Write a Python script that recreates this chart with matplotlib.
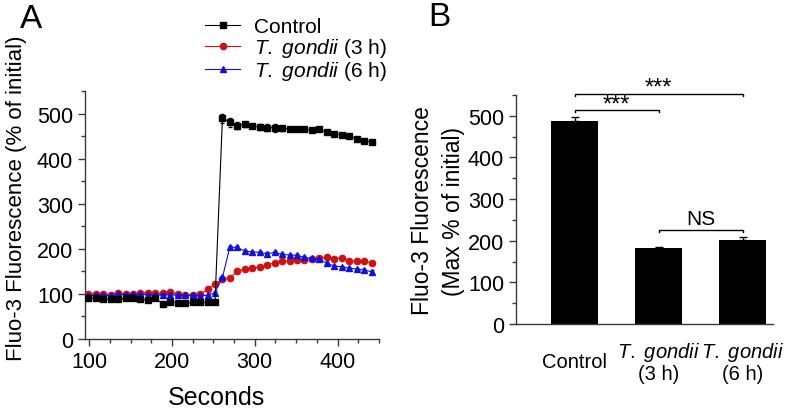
import matplotlib
matplotlib.use("Agg")
import matplotlib.pyplot as plt
from matplotlib.lines import Line2D
from matplotlib.ticker import MultipleLocator

plt.rcParams['font.family'] = ['Liberation Sans', 'DejaVu Sans']
plt.rcParams['mathtext.fontset'] = 'custom'
plt.rcParams['mathtext.it'] = 'Liberation Sans:italic'
plt.rcParams['mathtext.rm'] = 'Liberation Sans'

# time points (s)
seconds = [99, 108, 117, 126, 135, 144, 153, 162, 171, 180, 189, 198, 207, 216,
           225, 234, 243, 252, 261, 270, 279, 288, 297, 306, 315, 324, 333, 342,
           351, 360, 369, 378, 387, 396, 405, 414, 423, 432, 441]

control = [92, 90, 89, 88, 88, 90, 91, 88, 86, 90, 78, 82, 80, 79, 81, 81, 81, 82,
           490, 481, 473, 476, 472, 470, 469, 468, 467, 466, 465, 465, 463, 465,
           459, 454, 453, 451, 444, 440, 437]
control_err = [3, 3, 3, 3, 4, 3, 3, 3, 3, 3, 3, 3, 3, 3, 3, 3, 3, 3,
               10, 10, 8, 5, 5, 6, 8, 8, 6, 4, 4, 4, 4, 4, 4, 3, 3, 3, 3, 3, 3]

tg3h = [100, 100, 100, 98, 102, 100, 99, 102, 103, 102, 101, 105, 99, 98, 98, 99, 110, 122,
        133, 136, 150, 155, 158, 159, 164, 169, 172, 173, 175, 176, 177, 179,
        181, 178, 180, 173, 173, 173, 169]
tg3h_err = [3] * len(tg3h)

tg6h = [96, 97, 97, 96, 99, 98, 99, 99, 98, 97, 98, 98, 97, 97, 97, 96, 97, 103,
        137, 204, 203, 195, 193, 192, 189, 192, 188, 186, 186, 181, 179, 177,
        168, 162, 160, 157, 155, 153, 149]
tg6h_err = [3] * len(tg6h)

# panel B
groups = ['Control', '$\\it{T.}$ $\\it{gondii}$\n(3 h)', '$\\it{T.}$ $\\it{gondii}$\n(6 h)']
max_fluo = [488, 182, 202]
max_err = [9, 3, 7]

spine_col = '#3a3a3a'
red = '#d21010'
blue = '#1010e0'

fig = plt.figure(figsize=(7.97, 4.10), dpi=100)

# ---------------- panel A
axA = fig.add_axes([0.1066, 0.1707, 0.3689, 0.6049])
axA.errorbar(seconds, tg3h, yerr=tg3h_err, color=red, marker='o', ms=4.5,
             lw=0.8, elinewidth=0.6, capsize=1.2, zorder=3)
axA.errorbar(seconds, tg6h, yerr=tg6h_err, color=blue, marker='^', ms=5,
             lw=0.8, elinewidth=0.6, capsize=1.2, zorder=4)
axA.errorbar(seconds, control, yerr=control_err, color='black', marker='s', ms=4,
             lw=0.8, elinewidth=0.6, capsize=1.2, zorder=5)
axA.set_xlim(95, 450)
axA.set_ylim(0, 550)
axA.xaxis.set_major_locator(MultipleLocator(100))
axA.xaxis.set_minor_locator(MultipleLocator(25))
axA.yaxis.set_minor_locator(MultipleLocator(50))
axA.set_yticks([0, 100, 200, 300, 400, 500])
for s in ['top', 'right']:
    axA.spines[s].set_visible(False)
for s in ['left', 'bottom']:
    axA.spines[s].set_color(spine_col)
    axA.spines[s].set_linewidth(1.0)
axA.tick_params(which='major', length=5, width=1, color=spine_col, labelsize=15.5)
axA.tick_params(which='minor', length=3, width=1, color=spine_col)
fig.text(216 / 797, 1 - 398 / 410, 'Seconds', fontsize=18, ha='center', va='center')
fig.text(17 / 797, 1 - 198 / 410, 'Fluo-3 Fluorescence (% of initial)', fontsize=16,
         rotation=90, ha='center', va='center')

leg_handles = [
    Line2D([], [], color='black', marker='s', ms=4, lw=0.8),
    Line2D([], [], color=red, marker='o', ms=4.5, lw=0.8),
    Line2D([], [], color=blue, marker='^', ms=5, lw=0.8),
]
leg_labels = ['Control', '$\\it{T.}$ $\\it{gondii}$ (3 h)', '$\\it{T.}$ $\\it{gondii}$ (6 h)']
fig.legend(leg_handles, leg_labels, loc='upper left',
           bbox_to_anchor=(205 / 797, 1 - 18 / 410), frameon=False, fontsize=15,
           handlelength=1.7, handletextpad=0.65, labelspacing=0.0,
           borderpad=0, borderaxespad=0)
fig.text(31 / 797, 1 - 20 / 410, 'A', fontsize=24, ha='center', va='center')

# ---------------- panel B
axB = fig.add_axes([0.6474, 0.2073, 0.3226, 0.5586])
pos = [0, 1, 2]
axB.bar(pos, max_fluo, width=0.556, color='black', zorder=2)
axB.errorbar(pos, max_fluo, yerr=[[0, 0, 0], max_err], fmt='none', ecolor='black',
             elinewidth=1, capsize=3, zorder=3)
axB.set_xlim(-0.70, 2.36)
axB.set_ylim(0, 550)
axB.yaxis.set_minor_locator(MultipleLocator(50))
axB.set_yticks([0, 100, 200, 300, 400, 500])
axB.set_xticks(pos)
axB.set_xticklabels(groups, fontsize=14.5, va='center', linespacing=1.05)
axB.tick_params(axis='x', length=0, pad=27)
axB.tick_params(axis='y', which='major', length=5, width=1, color=spine_col, labelsize=15.5)
axB.tick_params(axis='y', which='minor', length=3, width=1, color=spine_col)
for s in ['top', 'right']:
    axB.spines[s].set_visible(False)
for s in ['left', 'bottom']:
    axB.spines[s].set_color(spine_col)
    axB.spines[s].set_linewidth(1.0)
fig.text(438 / 797, 1 - 211 / 410, 'Fluo-3 Fluorescence\n(Max % of initial)', fontsize=16.5,
         rotation=90, ha='center', va='center', linespacing=1.4, multialignment='center')


def bracket(ax, x0, x1, y, text, ty, size):
    ax.plot([x0, x0, x1, x1], [y - 5, y, y, y - 5], color='black', lw=1,
            clip_on=False)
    ax.text((x0 + x1) / 2, ty, text, ha='center', va='center', fontsize=size,
            clip_on=False)


bracket(axB, 0, 2, 552, '***', 568, 17)
bracket(axB, 0, 1, 514, '***', 527, 17)
bracket(axB, 1, 2, 226, 'NS', 253, 15)
fig.text(439 / 797, 1 - 18 / 410, 'B', fontsize=24, ha='center', va='center')

fig.savefig('out.png', dpi=100)
